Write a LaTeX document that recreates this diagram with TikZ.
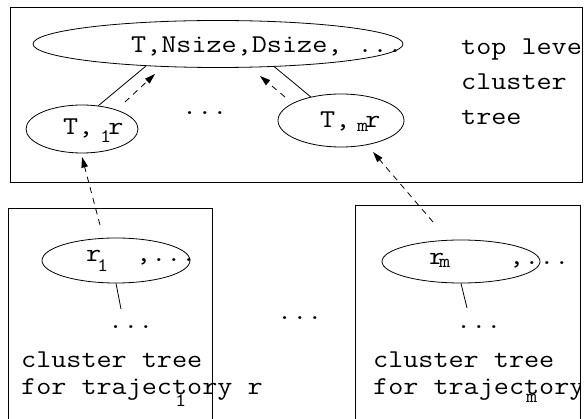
\documentclass[tikz,border=0pt]{standalone}
\usepackage{fontspec}
\setmonofont[FakeStretch=1.14]{Latin Modern Mono}
\usetikzlibrary{arrows.meta,shapes.geometric}

\tikzset{
  treebox/.style={draw, line width=0.8pt},
  cluster/.style={draw, ellipse, inner sep=0pt, line width=0.8pt},
  label/.style={inner sep=0pt, anchor=base west, font=\ttfamily\fontsize{25.7}{30}\selectfont},
  sublabel/.style={inner sep=0pt, anchor=base west, font=\ttfamily\fontsize{19}{21}\selectfont},
  edge/.style={line width=0.8pt},
  uplink/.style={line width=0.8pt, dash pattern=on 6pt off 5pt,
    -{Triangle[length=10.5pt,width=6.5pt]}},
}

\begin{document}
\begin{tikzpicture}[x=1pt, y=-1pt]
\useasboundingbox (0,0) rectangle (584,419);
\clip (0,0) rectangle (584,419);

% ---- top level cluster tree ----
\draw[treebox] (10,7) rectangle (582,182);
\node[cluster, minimum width=370pt, minimum height=47pt] (top) at (218,44) {};
\node[cluster, minimum width=112pt, minimum height=48pt] (c1) at (82,129) {};
\node[cluster, minimum width=126pt, minimum height=53pt] (cm) at (341,120.5) {};

\node[label] (toptxt) at (131,53) {T,Nsize,Dsize, ...};
\node[label] (c1txt) at (63,135) {T, r};
\node[sublabel] (c1sub) at (100,143) {1};
\node[label] (cmtxt) at (320,128) {T, r};
\node[sublabel] (cmsub) at (357,132) {m};
\node[label] (topdots) at (182,115) {...};

\begin{scope}
  \clip (10,7) rectangle (582,182);
  \node[label] (cap1) at (461,55) {top level};
  \node[label] (cap2) at (461,90) {cluster};
  \node[label] (cap3) at (461,125) {tree};
\end{scope}

\draw[edge] (top.197) -- (c1.55);
\draw[edge] (top.338) -- (cm.142);

\coordinate (a1s) at (125,102);  \coordinate (a1e) at (155,74);
\coordinate (a2s) at (285,97);   \coordinate (a2e) at (260,76);
\draw[uplink] (a1s) -- (a1e);
\draw[uplink] (a2s) -- (a2e);

% ---- cluster tree for trajectory r_1 ----
\draw[treebox] (8,430) -- (8,208) -- (212,208) -- (212,430);
\node[cluster, minimum width=148pt, minimum height=45pt] (b1) at (116,260.5) {};
\node[label] (b1r) at (86,262) {r};
\node[sublabel] (b1sub) at (97,272) {1};
\node[label] (b1more) at (136,262) {,...};
\coordinate (b1end) at (121,309);
\draw[edge] (b1.south) -- (b1end);
\node[label] (b1dots) at (108,329) {...};
\node[label] (b1cap1) at (21,368) {cluster tree};
\node[label] (b1cap2) at (21,395) {for trajectory r};
\node[sublabel] (b1capsub) at (175,407) {1};

% ---- gap between the trajectory trees ----
\node[label] (middots) at (277,320) {...};

% ---- cluster tree for trajectory r_m ----
\draw[treebox] (355,430) -- (355,205) -- (580,205) -- (580,430);
\node[cluster, minimum width=158pt, minimum height=43pt] (b2) at (461,261.5) {};
\node[label] (b2r) at (429,265) {r};
\node[sublabel] (b2sub) at (439,268) {m};
\node[label] (b2more) at (509,265) {,...};
\coordinate (b2end) at (467,308);
\draw[edge] (b2.south) -- (b2end);
\node[label] (b2dots) at (456,329) {...};
\begin{scope}
  \clip (355,205) rectangle (580,430);
  \node[label] (b2cap1) at (373,368) {cluster tree};
  \node[label] (b2cap2) at (373,395) {for trajectory r};
\end{scope}
\node[sublabel] (b2capsub) at (526,403) {m};

% ---- links from the trajectory roots up to the top level ----
\coordinate (a3s) at (100,225);  \coordinate (a3e) at (82,157);
\coordinate (a4s) at (433,222);  \coordinate (a4e) at (373,152);
\draw[uplink] (a3s) -- (a3e);
\draw[uplink] (a4s) -- (a4e);
\end{tikzpicture}
\end{document}
